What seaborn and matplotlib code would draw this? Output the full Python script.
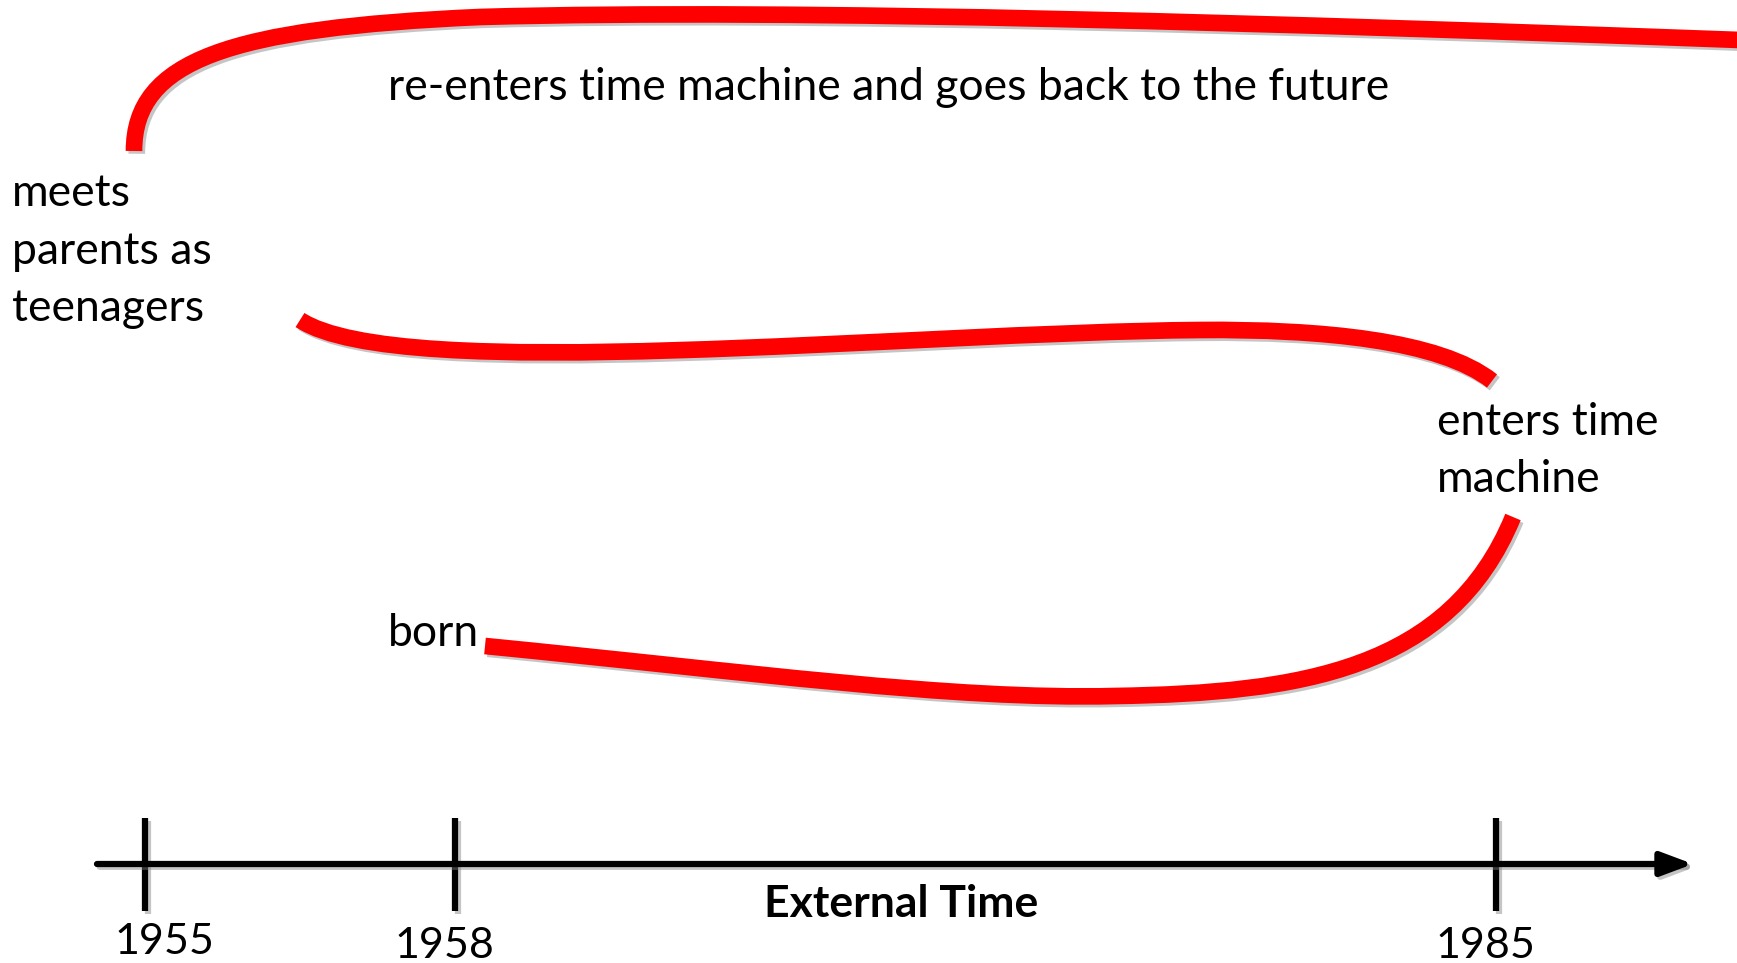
import matplotlib
matplotlib.use("Agg")
import matplotlib.pyplot as plt
import matplotlib.patheffects as pe
from matplotlib.path import Path
from matplotlib.patches import PathPatch
import seaborn as sns

# schematic canvas (same units as the picture)
W, H = 1737, 963

# timeline events
YEARS = ["1955", "1958", "1985"]
YEAR_X = [145, 455, 1496]
YEAR_LABEL_X = [164, 444, 1485]
YEAR_LABEL_Y = [942, 946, 946]
AXIS_Y = 864
AXIS_START, AXIS_END = 97, 1693

# personal-time path, as cubic bezier control points (x, y)
BORN_TO_MACHINE = [(485, 646), (750, 672), (950, 700), (1115, 696),
                   (1300, 693), (1450, 670), (1513, 517)]
BACK_IN_1955 = [(1492, 381), (1440, 340), (1320, 329), (1200, 330),
                (900, 332.5), (400, 385), (300, 320)]
BACK_TO_FUTURE = [(134, 151), (134, 60), (230, 28), (480, 17),
                  (800, 8), (1300, 24), (1740, 40)]

LABELS = [
    ("re-enters time machine and goes back to the future", 388, 87),
    ("meets\nparents as\nteenagers", 12, 251),
    ("enters time\nmachine", 1437, 451),
    ("born", 388, 634),
]

sns.set_theme(style="white")
plt.rcParams["font.family"] = ["Lato", "DejaVu Sans"]


def bezier(points):
    codes = [Path.MOVETO] + [Path.CURVE4] * (len(points) - 1)
    return Path(points, codes)


fig = plt.figure(figsize=(W / 100, H / 100), dpi=100)
ax = fig.add_axes([0, 0, 1, 1])
ax.set_xlim(0, W)
ax.set_ylim(H, 0)
ax.axis("off")

shadow = [pe.SimpleLineShadow(offset=(2, -2), shadow_color="gray", alpha=0.45), pe.Normal()]

for pts in [BORN_TO_MACHINE, BACK_IN_1955, BACK_TO_FUTURE]:
    patch = PathPatch(bezier(pts), fill=False, edgecolor="#ff0000", lw=12,
                      capstyle="butt", joinstyle="round")
    patch.set_path_effects(shadow)
    ax.add_patch(patch)

# external time axis
ax.annotate("", xy=(AXIS_END, AXIS_Y), xytext=(AXIS_START, AXIS_Y),
            arrowprops=dict(arrowstyle="-|>,head_length=1.6,head_width=0.6",
                            color="black", lw=4.5, shrinkA=0, shrinkB=0,
                            path_effects=shadow))
ax.vlines(YEAR_X, AXIS_Y - 46, AXIS_Y + 47, color="black", lw=4.5, path_effects=shadow)

for yr, lx, ly in zip(YEARS, YEAR_LABEL_X, YEAR_LABEL_Y):
    ax.text(lx, ly, yr, ha="center", va="center", fontsize=31, color="black")

ax.text(901, 904, "External Time", ha="center", va="center", fontsize=32,
        fontweight="bold", color="black")

for txt, x, y in LABELS:
    ax.text(x, y, txt, ha="left", va="center", fontsize=32, color="black",
            linespacing=1.5)

fig.savefig("out.png", dpi=100)
